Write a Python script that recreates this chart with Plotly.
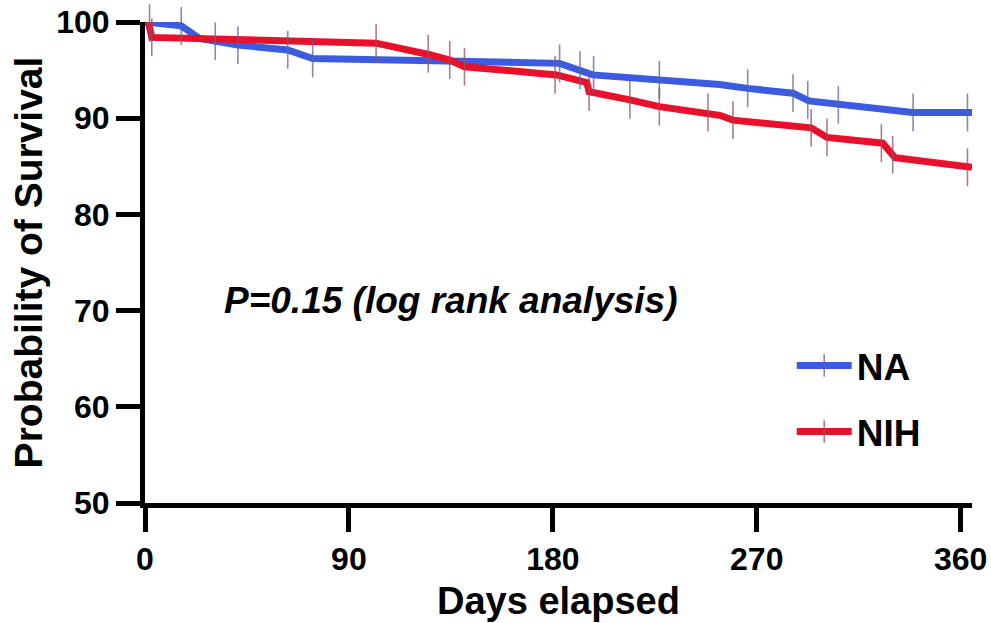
import plotly.graph_objects as go

# ---- data ----
na_days = [0, 16, 24, 41, 63, 74, 121, 183, 197.6, 227, 253.6, 266, 286, 293, 306.6, 338.8, 365]
na_surv = [100, 99.6, 98.3, 97.6, 97.1, 96.2, 96.0, 95.7, 94.5, 94.0, 93.5, 93.1, 92.6, 91.8, 91.4, 90.6, 90.6]

nih_days = [0, 1.5, 3, 102, 125.7, 134.5, 141, 181.7, 195, 196, 214, 227, 253.6, 259.5, 294, 301, 325.6, 331, 365]
nih_surv = [100, 100, 98.4, 97.8, 96.6, 96.05, 95.35, 94.5, 93.7, 92.75, 91.9, 91.2, 90.3, 89.8, 89.0, 88.0, 87.4, 85.9, 84.9]

na_cens_days = [2, 16, 31, 41, 63, 74, 183, 192, 198, 227, 266, 286, 292.5, 306, 339, 363]
na_cens_surv = [99.9, 99.6, 98.0, 97.6, 97.1, 96.2, 95.7, 95.0, 94.5, 94.0, 93.1, 92.6, 91.9, 91.4, 90.6, 90.6]

nih_cens_days = [3, 102, 125, 134.5, 141, 181, 196, 214, 227, 248.5, 259.5, 294, 301, 325, 330, 363]
nih_cens_surv = [98.4, 97.8, 96.7, 96.05, 95.35, 94.5, 92.75, 91.9, 91.2, 90.6, 89.8, 89.0, 88.0, 87.4, 86.2, 84.9]

series_names = ["NA", "NIH"]
x_ticks = [0, 90, 180, 270, 360]
y_ticks = [50, 60, 70, 80, 90, 100]

BLUE = "#3b5ce0"
RED = "#e8102a"
BLUE_CENS = "rgba(90,100,150,0.75)"
RED_CENS = "rgba(150,80,90,0.75)"
FONT = "Arial, Liberation Sans, Helvetica, sans-serif"

fig = go.Figure()

for d, s, c in [(na_days, na_surv, BLUE), (nih_days, nih_surv, RED)]:
    fig.add_trace(go.Scatter(x=d, y=s, mode="lines", line=dict(color=c, width=7),
                             showlegend=False, hoverinfo="skip", cliponaxis=False))

for d, s, c in [(na_cens_days, na_cens_surv, BLUE_CENS), (nih_cens_days, nih_cens_surv, RED_CENS)]:
    fig.add_trace(go.Scatter(x=d, y=s, mode="markers",
                             marker=dict(symbol="line-ns", size=27, line=dict(color=c, width=1.6)),
                             showlegend=False, cliponaxis=False))

for name, c, cc, lg in [(series_names[0], BLUE, BLUE_CENS, "legend"),
                        (series_names[1], RED, RED_CENS, "legend2")]:
    fig.add_trace(go.Scatter(x=[None], y=[None], mode="lines+markers", name=name, legend=lg,
                             line=dict(color=c, width=7),
                             marker=dict(symbol="line-ns", size=27, line=dict(color=cc, width=1.6))))

fig.add_annotation(x=135, y=71.1, xref="x", yref="y", text="P=0.15 (log rank analysis)",
                   showarrow=False,
                   font=dict(family=FONT, size=37, color="black", weight="bold", style="italic"))

legend_common = dict(xanchor="left", yanchor="middle",
                     font=dict(family=FONT, size=37, color="black", weight="bold"),
                     bgcolor="rgba(0,0,0,0)", itemwidth=55)

fig.update_layout(
    width=991, height=623,
    margin=dict(l=145, r=19, t=22, b=120, autoexpand=False),
    plot_bgcolor="white", paper_bgcolor="white",
    font=dict(family=FONT, color="black", weight="bold"),
    legend=dict(x=0.782, y=(503 - 366) / 481, **legend_common),
    legend2=dict(x=0.782, y=(503 - 432) / 481, **legend_common),
    xaxis=dict(range=[0, 365], tickvals=x_ticks, ticktext=[str(v) for v in x_ticks],
               automargin=False, ticklabeloverflow="allow",
               showline=True, linecolor="black", linewidth=5, ticks="outside",
               ticklen=24, tickwidth=5, tickcolor="black", showgrid=False, zeroline=False,
               tickfont=dict(family=FONT, size=32, color="black", weight="bold"),
               title=dict(text="Days elapsed", standoff=12,
                          font=dict(family=FONT, size=38, color="black", weight="bold"))),
    yaxis=dict(range=[50, 100], tickvals=y_ticks, ticktext=[str(v) for v in y_ticks],
               automargin=False, ticklabeloverflow="allow",
               showline=True, linecolor="black", linewidth=5, ticks="outside",
               ticklen=24, tickwidth=5, tickcolor="black", showgrid=False, zeroline=False,
               tickfont=dict(family=FONT, size=32, color="black", weight="bold"),
               title=dict(text="Probability of Survival", standoff=3,
                          font=dict(family=FONT, size=39, color="black", weight="bold"))),
)

# remove the browser's default 8px body margin so the figure fills the window exactly
fig.write_html("out.html", config={"displayModeBar": False},
               post_script="document.body.style.margin='0px';")
